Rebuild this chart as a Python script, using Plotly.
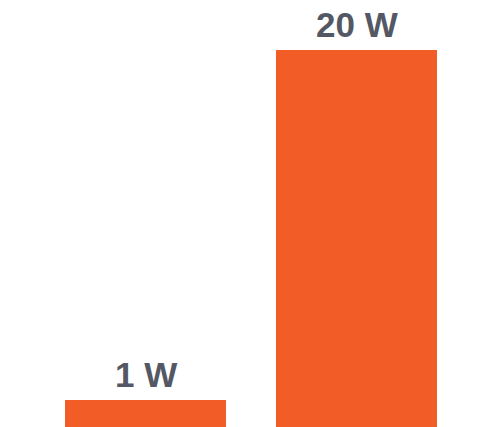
import plotly.graph_objects as go
import math

categories = ["A", "B"]
values = [1, 20]
labels = ["1 W", "20 W"]

fig = go.Figure(go.Bar(
    x=categories, y=values,
    marker=dict(color="#F25C27", line=dict(width=0)),
    hoverinfo="skip",
))
for c, v, t in zip(categories, values, labels):
    fig.add_annotation(
        x=c, y=math.log10(v), text="<b>" + t + "</b>", showarrow=False,
        xref="x", yref="y", yanchor="bottom", yshift=4,
        font=dict(family="Liberation Sans, Arial, sans-serif", size=35, color="#545864"),
    )
fig.update_layout(
    width=480, height=419,
    margin=dict(l=32, r=26, t=0, b=0),
    paper_bgcolor="white", plot_bgcolor="white",
    bargap=0.237, showlegend=False,
    xaxis=dict(visible=False),
    yaxis=dict(visible=False, type="log", range=[-0.1003, 1.457]),
)
fig.write_html("out.html")
